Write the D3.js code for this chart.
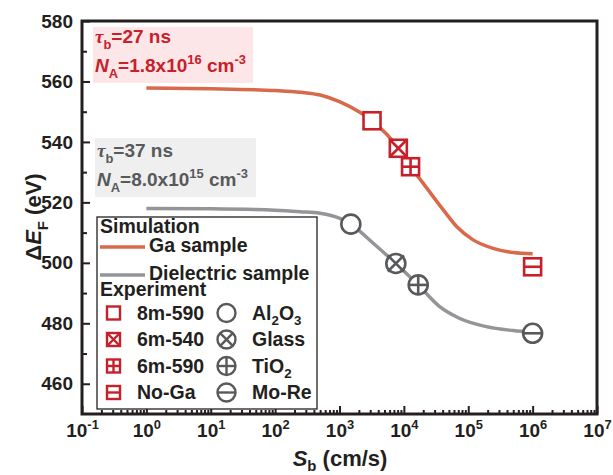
<!DOCTYPE html>
<html>
<head>
<meta charset="utf-8">
<script src="https://cdn.jsdelivr.net/npm/d3@7/dist/d3.min.js"></script>
<style>
  html, body { margin: 0; padding: 0; background: #fff; }
  svg { display: block; font-family: "Liberation Sans", Arial, sans-serif; font-weight: bold; }
</style>
</head>
<body>
<svg id="chart" width="613" height="475"></svg>
<script>
// Simulated ΔE_F versus back-surface recombination velocity S_b
const gaCurveS = [1, 10, 100, 250, 500, 1000, 2100, 3200, 8200, 12700, 20000, 41000, 66000, 119000, 243000, 500000, 1000000];
const gaCurveDE = [557.8, 557.6, 557.0, 556.4, 555.5, 553.3, 549.7, 547.0, 538.0, 531.8, 526.3, 517.5, 512.0, 507.6, 504.8, 503.4, 503.0];
const dielCurveS = [1, 10, 100, 243, 497, 1014, 1500, 3340, 7500, 16700, 36000, 74000, 190000, 500000, 1000000];
const dielCurveDE = [518.0, 517.9, 517.4, 516.9, 516.4, 514.7, 512.8, 506.5, 499.8, 492.7, 485.5, 481.6, 478.9, 477.6, 477.0];

// Measured samples
const gaNames = ["8m-590", "6m-540", "6m-590", "No-Ga"];
const gaS = [3200, 8200, 12700, 1000000];
const gaDE = [547.0, 537.9, 531.8, 498.7];
const gaMarks = ["open", "cross", "plus", "minus"];

const dielNames = [["Al", "2", "O", "3"], ["Glass"], ["TiO", "2"], ["Mo-Re"]];
const dielS = [1500, 7500, 16700, 1000000];
const dielDE = [512.8, 499.8, 492.7, 476.7];
const dielMarks = ["open", "cross", "plus", "minus"];

// Axis ticks
const yMajor = [460, 480, 500, 520, 540, 560, 580];
const yMinor = [470, 490, 510, 530, 550, 570];
const xExponents = [-1, 0, 1, 2, 3, 4, 5, 6, 7];

const RED = "#c8202b", GRAY_MK = "#58595b", GA_LINE = "#d8694b", GRAY_LINE = "#939598", INK = "#231f20";

const svg = d3.select("#chart");
const L = 82, R = 597, T = 21, B = 414;
const x = d3.scaleLog().domain([0.1, 1e7]).range([L, R]);
const y = d3.scaleLinear().domain([450, 580]).range([B, T]);

// Styled text helper: parts are [text, kind] with kind in {"", "sub", "sup", "it", "tau"}
function rich(sel, parts, fs, subShift = 0.3) {
  let shift = 0;
  parts.forEach(([t, kind]) => {
    const ts = sel.append("tspan").text(t);
    let target = 0, size = fs;
    if (kind === "sub") { target = subShift * fs; size = 0.68 * fs; }
    if (kind === "sup") { target = -0.42 * fs; size = 0.68 * fs; }
    ts.attr("font-size", size).attr("dy", target - shift);
    shift = target;
    if (kind === "it") ts.attr("font-style", "italic");
    if (kind === "tau") ts.attr("font-style", "italic").attr("font-family", "'Liberation Serif', serif");
  });
  return sel;
}

// Annotation boxes
function note(x0, y0, w, h, fill, color, lines) {
  svg.append("rect").attr("x", x0).attr("y", y0).attr("width", w).attr("height", h).attr("fill", fill);
  lines.forEach(([by, parts]) => {
    rich(svg.append("text").attr("x", x0 + 2).attr("y", by).attr("fill", color).attr("font-size", 19), parts, 19);
  });
}
note(93, 27, 160, 56, "#fce6e7", RED, [
  [43, [["τ", "tau"], ["b", "sub"], ["=27 ns", ""]]],
  [72, [["N", "it"], ["A", "sub"], ["=1.8x10", ""], ["16", "sup"], [" cm", ""], ["-3", "sup"]]]
]);
note(95, 138, 161, 59, "#efefef", GRAY_MK, [
  [157, [["τ", "tau"], ["b", "sub"], ["=37 ns", ""]]],
  [186, [["N", "it"], ["A", "sub"], ["=8.0x10", ""], ["15", "sup"], [" cm", ""], ["-3", "sup"]]]
]);

// Axes
const yAx = svg.append("g").attr("transform", `translate(${L},0)`)
  .call(d3.axisLeft(y).tickValues(yMajor).tickSize(-8).tickPadding(9).tickFormat(d3.format("d")));
svg.append("g").attr("transform", `translate(${L},0)`)
  .call(d3.axisLeft(y).tickValues(yMinor).tickSize(-5).tickFormat(""));

const xMinor = [];
xExponents.slice(0, -1).forEach(e => { for (let k = 2; k <= 9; k++) xMinor.push(k * Math.pow(10, e)); });
const xAx = svg.append("g").attr("transform", `translate(0,${B})`)
  .call(d3.axisBottom(x).tickValues(xExponents.map(e => Math.pow(10, e))).tickSize(-8).tickFormat(""));
svg.append("g").attr("transform", `translate(0,${B})`)
  .call(d3.axisBottom(x).tickValues(xMinor).tickSize(-4).tickFormat(""));

svg.selectAll(".domain").remove();
svg.selectAll(".tick line").attr("stroke", INK).attr("stroke-width", 2);
yAx.selectAll("text").attr("font-size", 19).attr("fill", INK).attr("font-family", "'Liberation Sans', Arial, sans-serif");

xAx.selectAll(".tick").each(function (d) {
  const e = Math.round(Math.log10(d));
  const t = d3.select(this).append("text").attr("y", 23).attr("fill", INK)
    .attr("text-anchor", "middle").attr("font-size", 19);
  rich(t, [["10", ""], [String(e), "sup"]], 19);
});

// Simulation curves
const line = d3.line().x(d => x(d[0])).y(d => y(d[1])).curve(d3.curveMonotoneX);
svg.append("path").datum(d3.zip(gaCurveS, gaCurveDE)).attr("d", line)
  .attr("fill", "none").attr("stroke", GA_LINE).attr("stroke-width", 3.5);
svg.append("path").datum(d3.zip(dielCurveS, dielCurveDE)).attr("d", line)
  .attr("fill", "none").attr("stroke", GRAY_LINE).attr("stroke-width", 3.5);

// Marker glyphs
function square(g, kind, s, color, sw) {
  const h = s / 2;
  g.append("rect").attr("x", -h).attr("y", -h).attr("width", s).attr("height", s)
    .attr("fill", "#fff").attr("stroke", color).attr("stroke-width", sw);
  const seg = (x1, y1, x2, y2) => g.append("line").attr("x1", x1).attr("y1", y1).attr("x2", x2).attr("y2", y2)
    .attr("stroke", color).attr("stroke-width", sw);
  if (kind === "cross") { seg(-h, -h, h, h); seg(-h, h, h, -h); }
  if (kind === "plus") { seg(-h, 0, h, 0); seg(0, -h, 0, h); }
  if (kind === "minus") { seg(-h, 0, h, 0); }
}
function circle(g, kind, r, color, sw, over) {
  g.append("circle").attr("r", r).attr("fill", "#fff").attr("stroke", color).attr("stroke-width", sw);
  const seg = (x1, y1, x2, y2) => g.append("line").attr("x1", x1).attr("y1", y1).attr("x2", x2).attr("y2", y2)
    .attr("stroke", color).attr("stroke-width", sw);
  const c = r * over;
  if (kind === "cross") { seg(-c, -c, c, c); seg(-c, c, c, -c); }
  if (kind === "plus") { seg(-r, 0, r, 0); seg(0, -r, 0, r); }
  if (kind === "minus") { seg(-r, 0, r, 0); }
}

// Experimental points
gaS.forEach((s, i) => {
  const g = svg.append("g").attr("transform", `translate(${x(s)},${y(gaDE[i])})`);
  square(g, gaMarks[i], 17, RED, 2.6);
});
dielS.forEach((s, i) => {
  const g = svg.append("g").attr("transform", `translate(${x(s)},${y(dielDE[i])})`);
  circle(g, dielMarks[i], 9.5, GRAY_MK, 2.6, 0.85);
});

// Legend
const lg = svg.append("g");
lg.append("rect").attr("x", 97).attr("y", 217).attr("width", 220).attr("height", 192)
  .attr("fill", "#fff").attr("stroke", INK).attr("stroke-width", 1.3);
const lt = (xx, yy, parts) => rich(lg.append("text").attr("x", xx).attr("y", yy).attr("fill", INK).attr("font-size", 19.5), parts, 19.5);
lt(100, 233, [["Simulation", ""]]);
lg.append("line").attr("x1", 100).attr("x2", 145).attr("y1", 247).attr("y2", 247).attr("stroke", GA_LINE).attr("stroke-width", 3.5);
lt(149, 252, [["Ga sample", ""]]);
lg.append("line").attr("x1", 100).attr("x2", 145).attr("y1", 275).attr("y2", 275).attr("stroke", GRAY_LINE).attr("stroke-width", 3.5);
lt(149, 280, [["Dielectric sample", ""]]);
lt(100, 296, [["Experiment", ""]]);
gaNames.forEach((n, i) => {
  const cy = 313 + i * 26.5;
  square(lg.append("g").attr("transform", `translate(113.5,${cy})`), gaMarks[i], 13, RED, 2.4);
  lt(137, cy + 6.5, [[n, ""]]);
  circle(lg.append("g").attr("transform", `translate(226.5,${cy})`), dielMarks[i], 9, GRAY_MK, 2.4, 0.7);
  const parts = dielNames[i].map((p, j) => [p, j % 2 === 1 ? "sub" : ""]);
  lt(252, cy + 6.5, parts);
});

// Frame
svg.append("rect").attr("x", L).attr("y", T).attr("width", R - L).attr("height", B - T)
  .attr("fill", "none").attr("stroke", INK).attr("stroke-width", 3);

// Axis titles
const yt = svg.append("text").attr("transform", "translate(41,217) rotate(-90)")
  .attr("text-anchor", "middle").attr("fill", INK).attr("font-size", 22);
rich(yt, [["Δ", ""], ["E", "it"], ["F", "sub"], [" (eV)", ""]], 22);
const xt = svg.append("text").attr("x", 340).attr("y", 466)
  .attr("text-anchor", "middle").attr("fill", INK).attr("font-size", 22);
rich(xt, [["S", "it"], ["b", "sub"], [" (cm/s)", ""]], 22, 0.22);
</script>
</body>
</html>
